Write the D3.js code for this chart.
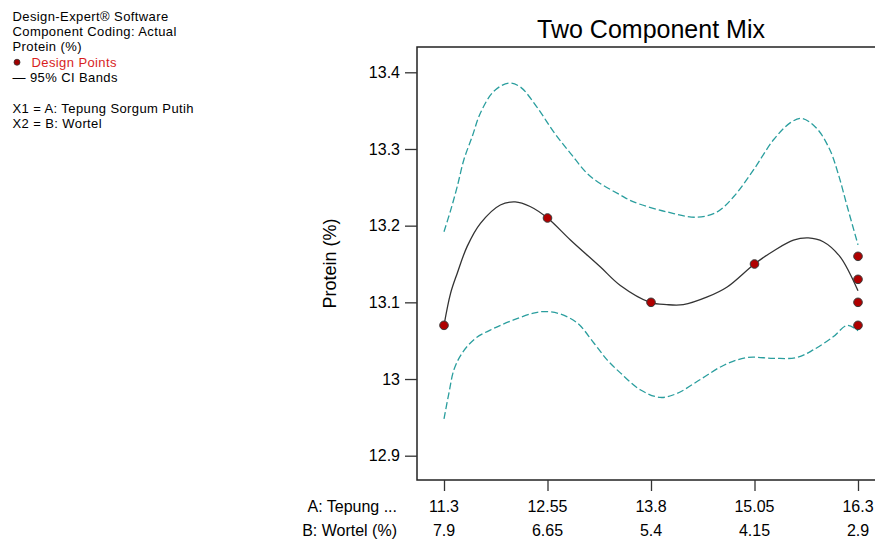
<!DOCTYPE html>
<html>
<head>
<meta charset="utf-8">
<script src="https://cdn.jsdelivr.net/npm/d3@7"></script>
<style>
  html, body { margin: 0; padding: 0; background: #fff; }
  svg { display: block; font-family: "Liberation Sans", Arial, sans-serif; }
</style>
</head>
<body>
<svg id="chart" width="875" height="540"></svg>
<script>
// ---------- data ----------
const tickA = [11.3, 12.55, 13.8, 15.05, 16.3];
const tickALabels = ["11.3", "12.55", "13.8", "15.05", "16.3"];
const tickBLabels = ["7.9", "6.65", "5.4", "4.15", "2.9"];
const yTicks = [12.9, 13.0, 13.1, 13.2, 13.3, 13.4];

const designA = [11.3, 12.55, 13.8, 15.05, 16.3, 16.3, 16.3, 16.3];
const designProtein = [13.07, 13.21, 13.10, 13.15, 13.16, 13.13, 13.10, 13.07];

const fitA = [11.3, 11.38, 11.46, 11.58, 11.74, 11.98, 12.16, 12.34, 12.55, 12.83, 13.19, 13.43, 13.79, 13.99, 14.19, 14.48, 14.72, 15.05, 15.28, 15.52, 15.70, 15.88, 16.08, 16.2, 16.3];
const fitProtein = [13.07, 13.112, 13.138, 13.173, 13.203, 13.227, 13.231, 13.225, 13.21, 13.181, 13.146, 13.122, 13.10, 13.097, 13.097, 13.107, 13.12, 13.15, 13.167, 13.181, 13.184, 13.179, 13.16, 13.138, 13.115];

const upperA = [11.3, 11.38, 11.46, 11.54, 11.64, 11.74, 11.9, 12.08, 12.22, 12.42, 12.62, 12.83, 13.07, 13.43, 13.59, 13.99, 14.35, 14.6, 14.8, 15.04, 15.28, 15.48, 15.62, 15.8, 15.96, 16.06, 16.17, 16.3];
const upperProtein = [13.192, 13.22, 13.251, 13.286, 13.316, 13.347, 13.375, 13.386, 13.381, 13.355, 13.323, 13.294, 13.264, 13.240, 13.231, 13.218, 13.211, 13.218, 13.238, 13.273, 13.312, 13.334, 13.340, 13.327, 13.299, 13.268, 13.225, 13.175];

const lowerA = [11.3, 11.36, 11.42, 11.52, 11.68, 11.9, 12.14, 12.38, 12.52, 12.7, 12.91, 13.11, 13.27, 13.43, 13.67, 13.91, 14.11, 14.39, 14.68, 14.96, 15.28, 15.56, 15.76, 16.0, 16.17, 16.3];
const lowerProtein = [12.948, 12.982, 13.012, 13.034, 13.053, 13.066, 13.077, 13.086, 13.088, 13.085, 13.073, 13.047, 13.025, 13.008, 12.986, 12.976, 12.981, 12.999, 13.018, 13.028, 13.027, 13.028, 13.038, 13.055, 13.07, 13.063];

const infoLines = [
  {text: "Design-Expert\u00AE Software", color: "#000"},
  {text: "Component Coding: Actual", color: "#000"},
  {text: "Protein (%)", color: "#000"},
  {text: "Design Points", color: "#d81e1e", marker: true},
  {text: "\u2014 95% CI Bands", color: "#000"},
  {text: "", color: "#000"},
  {text: "X1 = A: Tepung Sorgum Putih", color: "#000"},
  {text: "X2 = B: Wortel", color: "#000"}
];

// ---------- layout ----------
const frame = {left: 417, right: 885, top: 47, bottom: 480};
const svg = d3.select("#chart");

const x = d3.scaleLinear().domain([11.3, 16.3]).range([444, 858]);
const y = d3.scaleLinear().domain([12.9, 13.4]).range([455.7, 72.3]);

// title
svg.append("text")
  .attr("x", (frame.left + frame.right) / 2)
  .attr("y", 38)
  .attr("text-anchor", "middle")
  .attr("font-size", 25)
  .attr("fill", "#000")
  .text("Two Component Mix");

// info legend
const info = svg.append("g").attr("font-size", 13).attr("letter-spacing", 0.4);
infoLines.forEach((d, i) => {
  const by = 20.7 + i * 15.35;
  if (d.marker) {
    info.append("circle").attr("cx", 17).attr("cy", by - 4.5).attr("r", 3)
      .attr("fill", "#a00000").attr("stroke", "#333").attr("stroke-width", 0.8);
    info.append("text").attr("x", 31.5).attr("y", by).attr("fill", d.color).text(d.text);
  } else {
    info.append("text").attr("x", 12.5).attr("y", by).attr("fill", d.color).text(d.text);
  }
});

// clip
svg.append("clipPath").attr("id", "plotclip")
  .append("rect").attr("x", frame.left).attr("y", frame.top)
  .attr("width", frame.right - frame.left).attr("height", frame.bottom - frame.top);

// frame
svg.append("rect")
  .attr("x", frame.left).attr("y", frame.top)
  .attr("width", frame.right - frame.left).attr("height", frame.bottom - frame.top)
  .attr("fill", "none").attr("stroke", "#222").attr("stroke-width", 1.5);

// y axis
const yAxis = d3.axisLeft(y).tickValues(yTicks).tickSize(12).tickPadding(5)
  .tickFormat(d => String(+d.toFixed(1)));
const gy = svg.append("g").attr("transform", `translate(${frame.left},0)`).call(yAxis);
gy.select(".domain").remove();
gy.selectAll(".tick line").attr("stroke", "#333").attr("stroke-width", 1.3);
gy.selectAll(".tick text").attr("font-size", 16).attr("fill", "#000")
  .attr("font-family", "'Liberation Sans', Arial, sans-serif");

svg.append("text")
  .attr("transform", `translate(336,${(frame.top + frame.bottom) / 2}) rotate(-90)`)
  .attr("text-anchor", "middle")
  .attr("font-size", 18)
  .attr("fill", "#000")
  .text("Protein (%)");

// x axis (ticks + two label rows)
const xAxis = d3.axisBottom(x).tickValues(tickA).tickSize(11).tickFormat("");
const gx = svg.append("g").attr("transform", `translate(0,${frame.bottom})`).call(xAxis);
gx.select(".domain").remove();
gx.selectAll(".tick line").attr("stroke", "#333").attr("stroke-width", 1.3);

const xl = svg.append("g").attr("font-size", 16).attr("fill", "#000");
xl.selectAll("text.a").data(tickA).join("text").attr("class", "a")
  .attr("x", d => x(d)).attr("y", 511.5).attr("text-anchor", "middle")
  .text((d, i) => tickALabels[i]);
xl.selectAll("text.b").data(tickA).join("text").attr("class", "b")
  .attr("x", d => x(d)).attr("y", 535.5).attr("text-anchor", "middle")
  .text((d, i) => tickBLabels[i]);
xl.append("text").attr("x", 397).attr("y", 511.5).attr("text-anchor", "end").text("A: Tepung ...");
xl.append("text").attr("x", 397).attr("y", 535.5).attr("text-anchor", "end").text("B: Wortel (%)");

// curves
const line = d3.line().x(d => x(d[0])).y(d => y(d[1])).curve(d3.curveCatmullRom.alpha(0.5));
const plot = svg.append("g").attr("clip-path", "url(#plotclip)");

plot.append("path").datum(d3.zip(upperA, upperProtein))
  .attr("d", line).attr("fill", "none")
  .attr("stroke", "#2a9e9e").attr("stroke-width", 1.3).attr("stroke-dasharray", "7,3");
plot.append("path").datum(d3.zip(lowerA, lowerProtein))
  .attr("d", line).attr("fill", "none")
  .attr("stroke", "#2a9e9e").attr("stroke-width", 1.3).attr("stroke-dasharray", "7,3");
plot.append("path").datum(d3.zip(fitA, fitProtein))
  .attr("d", line).attr("fill", "none")
  .attr("stroke", "#333").attr("stroke-width", 1.3);

// design points
plot.selectAll("circle.pt").data(d3.zip(designA, designProtein)).join("circle")
  .attr("class", "pt")
  .attr("cx", d => x(d[0])).attr("cy", d => y(d[1])).attr("r", 4.3)
  .attr("fill", "#b00000").attr("stroke", "#3a3a3a").attr("stroke-width", 1);
</script>
</body>
</html>
